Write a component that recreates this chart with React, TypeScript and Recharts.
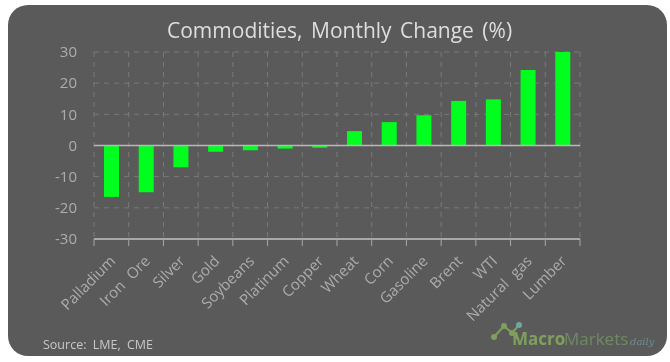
import React from "react";
import { BarChart, Bar, XAxis, YAxis, CartesianGrid, ReferenceLine } from "recharts";

const categories = ["Palladium","Iron Ore","Silver","Gold","Soybeans","Platinum","Copper","Wheat","Corn","Gasoline","Brent","WTI","Natural gas","Lumber"];
const changes = [-16.5,-15,-7,-2,-1.5,-1,-0.7,4.6,7.5,9.7,14.3,14.8,24.2,30];
const yTicks = [-30,-20,-10,0,10,20,30];
const data = categories.map((name, i) => ({ name, change: changes[i] }));

const PLOT = { left: 94, right: 580, top: 52, bottom: 239 };
const W = 670, H = 362;
const band = (PLOT.right - PLOT.left) / categories.length;
const FONT = "'Open Sans', sans-serif";
const TICK = "#adadad";
const GREEN = "#7f9f5e";

const XTick = (props: any) => {
  const { x, y, payload, index } = props;
  const last = index === categories.length - 1;
  const tx = x + 5, ty = y + 15;
  return (
    <g>
      <line x1={x - band / 2} x2={x - band / 2} y1={PLOT.bottom} y2={PLOT.bottom + 7} stroke="#a8a8a8" />
      {last && <line x1={x + band / 2} x2={x + band / 2} y1={PLOT.bottom} y2={PLOT.bottom + 7} stroke="#a8a8a8" />}
      <text x={tx} y={ty} fill={TICK} fontSize={15} wordSpacing={5} fontFamily={FONT} textAnchor="end"
        transform={`rotate(-45 ${tx} ${ty})`}>{payload.value}</text>
    </g>
  );
};

export default function App() {
  return (
    <div style={{ position: "absolute", left: 0, top: 0, width: W, height: H, background: "#fff", overflow: "hidden", filter: "blur(0.4px)" }}>
      <div style={{ position: "absolute", left: 8, top: 5, width: 659, height: 351, background: "#5a5a5a", borderRadius: 20 }} />
      <div style={{ position: "absolute", left: 0, top: 0 }}>
        <BarChart width={W} height={H} data={data}
          margin={{ left: PLOT.left - 44, right: W - PLOT.right - 44, top: PLOT.top, bottom: H - PLOT.bottom - 90 }}>
          <CartesianGrid stroke="#7a7a7a" strokeDasharray="5 5" yAxisId="l"
            verticalCoordinatesGenerator={() => categories.map((_, i) => PLOT.left + i * band).concat(PLOT.right)} />
          <XAxis dataKey="name" interval={0} height={90} axisLine={{ stroke: "#a8a8a8", strokeWidth: 2 }} tickLine={false}
            tick={<XTick />} />
          <YAxis yAxisId="l" width={44} domain={[-30, 30]} ticks={yTicks} axisLine={false} tickLine={false}
            tick={{ fill: TICK, fontSize: 15, fontFamily: FONT }} tickMargin={11} />
          <YAxis yAxisId="r" orientation="right" width={44} domain={[-30, 30]} ticks={yTicks} axisLine={false} tickLine={false}
            tick={{ fill: TICK, fontSize: 15, fontFamily: FONT }} tickMargin={22} />
          <ReferenceLine yAxisId="l" y={0} stroke="#b8b8b8" strokeWidth={1.5} />
          <Bar yAxisId="l" dataKey="change" fill="#00ff1e" barSize={15} isAnimationActive={false} />
        </BarChart>
      </div>
      <div style={{ position: "absolute", left: 167, top: 16, fontFamily: FONT, fontSize: 21, color: "#dedede", whiteSpace: "pre", wordSpacing: 3 }}>
        Commodities, Monthly Change (%)
      </div>
      <div style={{ position: "absolute", left: 43, top: 336, fontFamily: FONT, fontSize: 12.5, color: "#c8c8c8", whiteSpace: "pre", wordSpacing: 3 }}>
        Source: LME, CME
      </div>
      <svg style={{ position: "absolute", left: 0, top: 0 }} width={W} height={H}>
        <polyline points="494,337 504,326 512,333 519,340" fill="none" stroke={GREEN} strokeWidth={2} />
        <polyline points="512,333 519,325" fill="none" stroke={GREEN} strokeWidth={2} />
        <circle cx={494} cy={337} r={3} fill={GREEN} />
        <circle cx={504} cy={326} r={3} fill={GREEN} />
        <circle cx={512} cy={333} r={3} fill={GREEN} />
        <circle cx={519} cy={325} r={3} fill="#6fa7a0" />
        <text x={512} y={345} fontFamily={FONT} fontSize={17} fontWeight={700} fill={GREEN}>Macro</text>
        <text x={564} y={345} fontFamily={FONT} fontSize={17} fill="#6f8a62">Markets</text>
        <text x={630} y={345} fontFamily="'DejaVu Serif', serif" fontStyle="italic" fontSize={10} fill="#6f9090">daily</text>
      </svg>
    </div>
  );
}
